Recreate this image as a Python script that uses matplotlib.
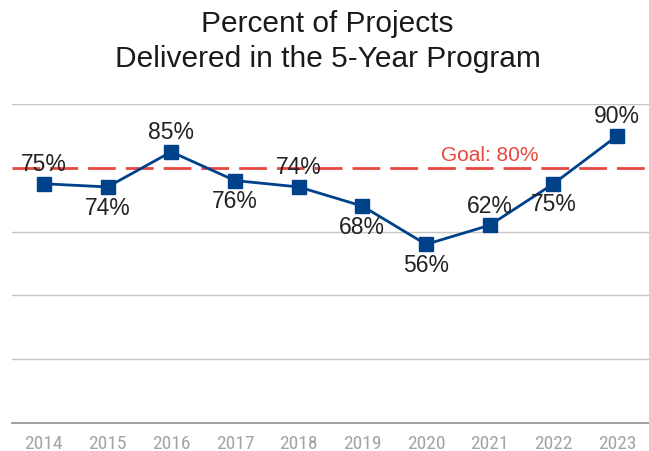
import matplotlib

matplotlib.use("Agg")
import matplotlib.pyplot as plt

years = ["2014", "2015", "2016", "2017", "2018", "2019", "2020", "2021", "2022", "2023"]
pct_delivered = [75, 74, 85, 76, 74, 68, 56, 62, 75, 90]
label_above = [True, False, True, False, True, False, False, True, False, True]
goal = 80
goal_label = "Goal: 80%"
title_lines = ["Percent of Projects", "Delivered in the 5-Year Program"]

BLUE = "#00428a"
RED = "#e8473f"

plt.rcParams["font.family"] = ["Liberation Sans", "DejaVu Sans"]

fig = plt.figure(figsize=(6.49, 4.52), dpi=100)
ax = fig.add_axes([12 / 649, 1 - 424 / 452, 1 - 12 / 649, (424 - 105) / 452])

x = list(range(len(years)))
ax.set_xlim(-0.5, len(years) - 0.5)
ax.set_ylim(0, 100)

# horizontal grid, darker base line
ax.set_yticks([0, 20, 40, 60, 80, 100])
ax.yaxis.grid(True, color="#c6c6c6", linewidth=1.0)
ax.set_axisbelow(True)
for side in ["top", "right", "left"]:
    ax.spines[side].set_visible(False)
ax.spines["bottom"].set_color("#999999")
ax.spines["bottom"].set_linewidth(1.3)
ax.tick_params(axis="y", length=0, labelleft=False)
ax.tick_params(axis="x", length=0, pad=8)
ax.set_xticks(x, years)
for lbl in ax.get_xticklabels():
    lbl.set_family(["Roboto Condensed", "Liberation Sans"])
    lbl.set_fontsize(14)
    lbl.set_color("#a3a3a3")

# goal line (white underlay hides the grid line between dashes)
ax.axhline(goal, color="white", linewidth=3, zorder=1.5)
ax.axhline(goal, color=RED, linewidth=2, dashes=(10, 3.6), zorder=2)
ax.text(7, goal + 1.3, goal_label, color=RED, fontsize=15, ha="center", va="bottom", zorder=2)

ax.plot(x, pct_delivered, color=BLUE, linewidth=2, marker="s", markersize=10, zorder=3)

for xi, val, up in zip(x, pct_delivered, label_above):
    ax.annotate(f"{val}%", (xi, val), xytext=(0, 14.5 if up else -14.5),
                textcoords="offset points", ha="center", va="center",
                fontsize=16.5, color="#222222", zorder=4)

for line, base_px in zip(title_lines, [32, 67]):
    fig.text(0.505, 1 - base_px / 452, line, ha="center", va="baseline",
             fontsize=21.5, color="#1a1a1a")

fig.savefig("out.png", dpi=100, facecolor="white")
